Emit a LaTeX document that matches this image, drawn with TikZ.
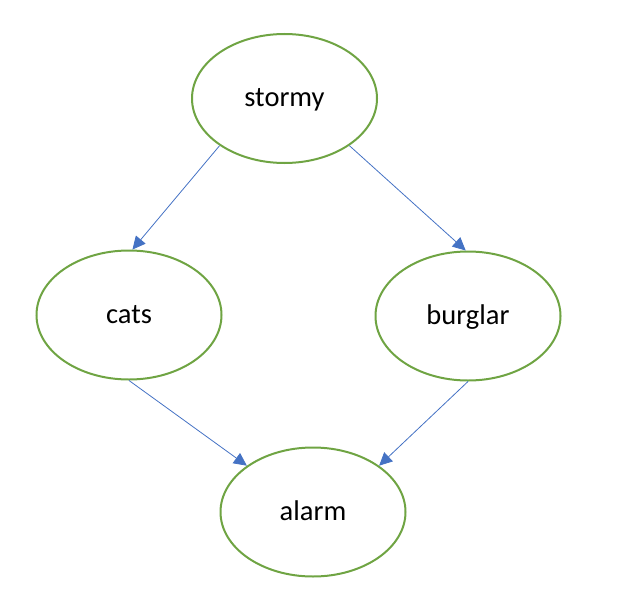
\documentclass[tikz,border=0pt]{standalone}
\usepackage{fontspec}
\setmainfont{Carlito}
\usepackage{xcolor}
\usetikzlibrary{arrows.meta}
\usetikzlibrary{shapes.geometric}
\definecolor{nodegreen}{HTML}{6FA443}
\definecolor{edgeblue}{HTML}{4472C4}
\tikzstyle{var}=[ellipse,draw=nodegreen,line width=2pt,minimum width=185pt,minimum height=129pt,inner sep=0pt,text height=20pt,text depth=4pt,font=\fontsize{28.5}{34}\selectfont]
\tikzstyle{dep}=[line width=.8pt,draw=edgeblue,-{Triangle[length=13pt,width=12.5pt,fill=edgeblue]}]

\begin{document}
\begin{tikzpicture}[x=1pt,y=1pt]
	\useasboundingbox (0,0) rectangle (642,-610);
	\node[var] (stormy)  at (284.5,-98.5) {stormy};
	\node[var] (cats)    at (129,-315)    {cats};
	\node[var] (burglar) at (468,-316)    {burglar};
	\node[var] (alarm)   at (313,-512)    {alarm};
	\draw[dep] (stormy.216) -- (cats.87);
	\draw[dep] (stormy.324) -- (burglar.92);
	\draw[dep] (cats.270) -- (alarm.145);
	\draw[dep] (burglar.270) -- (alarm.35);
\end{tikzpicture}
\end{document}
